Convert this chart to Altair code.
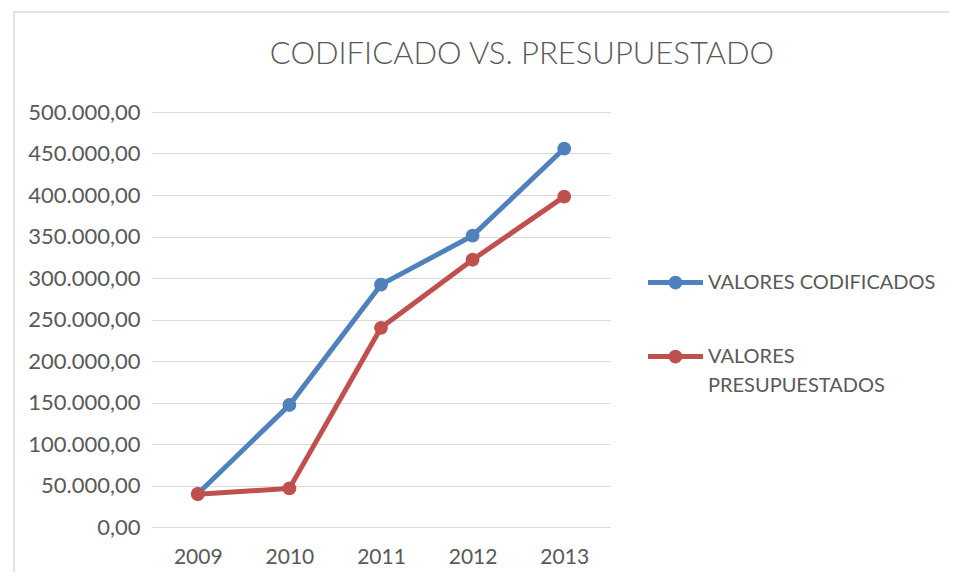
import altair as alt
import pandas as pd

years = ["2009", "2010", "2011", "2012", "2013"]
codificados = [40000, 147000, 292000, 351000, 456000]
presupuestados = [39500, 46500, 240000, 322000, 398000]
series_names = ["VALORES CODIFICADOS", "VALORES PRESUPUESTADOS"]
colors = ["#4F81BD", "#C0504D"]
y_ticks = list(range(0, 500001, 50000))
title_text = "CODIFICADO VS. PRESUPUESTADO"

rows = []
for name, vals in zip(series_names, [codificados, presupuestados]):
    for y, v in zip(years, vals):
        rows.append({"year": y, "value": v, "serie": name})
df = pd.DataFrame(rows)

FONT = "Lato"
GRAY = "#595959"
GRID = "#D9D9D9"

legend_path = ("M-1,-0.09 L1,-0.09 L1,0.09 L-1,0.09 Z "
               "M0,-0.25 A0.25,0.25 0 1,1 0,0.25 A0.25,0.25 0 1,1 0,-0.25 Z")


def build(with_style):
    legend = alt.Legend(title=None, orient="none", legendX=496, legendY=143,
                        symbolType=legend_path, symbolSize=3025,
                        symbolStrokeWidth=0, symbolOpacity=1,
                        labelFont=FONT, labelFontSize=20, labelColor=GRAY,
                        labelOffset=5, rowPadding=36, labelLimit=400,
                        labelExpr="datum.label == 'VALORES PRESUPUESTADOS' ? ['VALORES', 'PRESUPUESTADOS'] : datum.label")
    x_enc = alt.X("year:N", sort=years,
                  axis=alt.Axis(title=None, labelAngle=0, ticks=False, domain=True,
                                domainColor=GRID, labelFont=FONT, labelFontSize=21,
                                labelColor=GRAY, labelPadding=19))
    y_enc = alt.Y("value:Q", scale=alt.Scale(domain=[0, 500000], nice=False),
                  axis=alt.Axis(title=None, values=y_ticks, ticks=False, domain=False,
                                gridColor=GRID, gridWidth=1, labelFont=FONT,
                                labelFontSize=22, labelColor=GRAY, labelPadding=12,
                                labelExpr="replace(replace(replace(format(datum.value, ',.2f'), regexp(',', 'g'), '#'), '.', ','), regexp('#', 'g'), '.')"))
    color_scale = alt.Scale(domain=series_names, range=colors)

    lines = alt.Chart(df).mark_line(strokeWidth=5).encode(
        x=x_enc, y=y_enc,
        color=alt.Color("serie:N", scale=color_scale, legend=legend),
    )
    points = alt.Chart(df).mark_point(filled=True, size=190, opacity=1).encode(
        x=x_enc, y=y_enc,
        color=alt.Color("serie:N", scale=color_scale, legend=legend),
    )

    one = pd.DataFrame({"t": [title_text]})
    border = alt.Chart(one).mark_rect(
        fillOpacity=0, stroke="#D9D9D9", strokeWidth=1.5
    ).encode(x=alt.value(-138), x2=alt.value(800), y=alt.value(-100), y2=alt.value(500))

    title = alt.Chart(one).mark_text(
        font=FONT, fontSize=31, fontWeight=300, color=GRAY, align="center", baseline="middle"
    ).encode(x=alt.value(370), y=alt.value(-57), text="t:N")

    ch = alt.layer(border, lines, points, title).properties(
        width=458, height=415,
        autosize=alt.AutoSizeParams(type="none"),
        padding={"left": 144, "top": 104, "right": 339, "bottom": 45},
    )
    if with_style:
        ch = ch.configure(style={"guide-label": {"lineHeight": 29}})
    ch = ch.configure_view(strokeWidth=0, strokeOpacity=0)
    ch.to_dict()
    return ch


try:
    chart = build(True)
except Exception:
    chart = build(False)

chart.save("out.html", embed_options={"renderer": "svg", "actions": False})
